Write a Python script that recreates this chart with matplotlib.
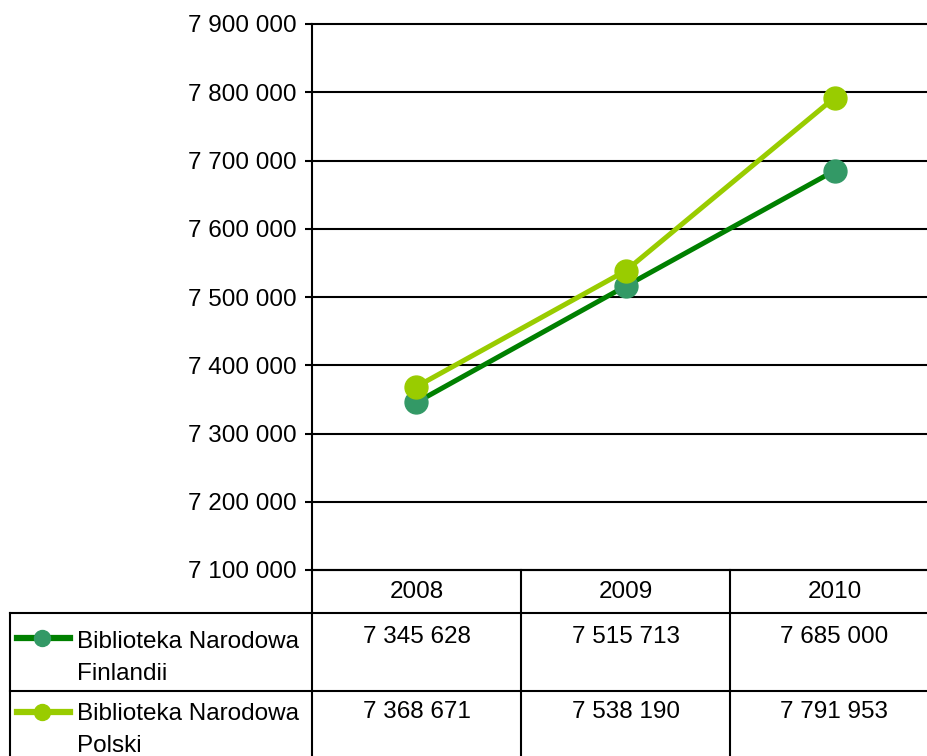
import matplotlib
matplotlib.use("Agg")
import matplotlib.pyplot as plt
from matplotlib.lines import Line2D
import matplotlib.transforms as mtransforms
import numpy as np

plt.rcParams['font.family'] = ['Liberation Sans', 'DejaVu Sans']

years = ["2008", "2009", "2010"]
series_names = [["Biblioteka Narodowa", "Finlandii"], ["Biblioteka Narodowa", "Polski"]]
finland = [7345628, 7515713, 7685000]
poland = [7368671, 7538190, 7791953]
finland_labels = ["7 345 628", "7 515 713", "7 685 000"]
poland_labels = ["7 368 671", "7 538 190", "7 791 953"]
yticks = list(range(7100000, 7900001, 100000))

line_colors = ["#008000", "#99CC00"]
marker_colors = ["#339966", "#99CC00"]

W, H = 928, 756
fig = plt.figure(figsize=(W / 100, H / 100), dpi=100)

def fx(px):
    return px / W

def fy(py):
    return 1 - py / H

ax_left, ax_right, ax_top, ax_bot = 312, 939, 24, 570
ax = fig.add_axes([fx(ax_left), fy(ax_bot), fx(ax_right - ax_left), (ax_bot - ax_top) / H])
ax.set_xlim(-0.5, 2.5)
ax.set_ylim(7100000, 7900000)

FS = 17.5
x = np.arange(len(years))
series = [finland, poland]
for i, s in enumerate(series):
    ax.plot(x, s, color=line_colors[i], lw=3.6, marker='o', markersize=16.5,
            markerfacecolor=marker_colors[i], markeredgecolor=marker_colors[i],
            zorder=3 + i, clip_on=False)

ax.set_yticks(yticks)
ax.set_yticklabels([f"{v:,}".replace(",", " ") for v in yticks], fontsize=FS)
ax.yaxis.grid(True, color='black', lw=1.5)
for gl in ax.get_ygridlines():
    gl.set_clip_on(False)
ax.set_axisbelow(True)
ax.set_xticks([])
ax.tick_params(axis='y', length=5, width=1.5, direction='out', pad=6)
for sp in ['top', 'right']:
    ax.spines[sp].set_visible(False)
ax.spines['left'].set_linewidth(1.5)
ax.spines['bottom'].set_linewidth(1.5)

# table drawn with blended transform: x in data, y in figure
blend = mtransforms.blended_transform_factory(ax.transData, fig.transFigure)
lw_t = 1.5
row_hdr_top, row1_top, row2_top, bottom = 570, 613, 691, 760
for b in [-0.5, 0.5, 1.5, 2.5]:
    fig.add_artist(Line2D([b, b], [fy(row_hdr_top), fy(bottom)], transform=blend,
                          color='black', lw=lw_t, clip_on=False))
fig.add_artist(Line2D([fx(10), fx(10)], [fy(row1_top), fy(bottom)], color='black', lw=lw_t))
for yy in [row1_top, row2_top]:
    fig.add_artist(Line2D([fx(10), fx(W + 20)], [fy(yy), fy(yy)], color='black', lw=lw_t))

for i, yr in enumerate(years):
    t = fig.text(i, fy(592), yr, fontsize=FS, ha='center', va='center')
    t.set_transform(blend)

row_labels = [finland_labels, poland_labels]
row_text_y = [637, 712]
label_baselines = [(648, 680), (720, 752)]
legend_y = [638, 712]
for r in range(2):
    for i, lab in enumerate(row_labels[r]):
        t = fig.text(i, fy(row_text_y[r]), lab, fontsize=FS, ha='center', va='center')
        t.set_transform(blend)
    for line, by in zip(series_names[r], label_baselines[r]):
        fig.text(fx(77), fy(by), line, fontsize=FS, ha='left', va='baseline')
    ly = fy(legend_y[r])
    fig.add_artist(Line2D([fx(17), fx(70)], [ly, ly], color=line_colors[r], lw=4.5))
    fig.add_artist(Line2D([fx(42)], [ly], marker='o', markersize=11.5,
                          markerfacecolor=marker_colors[r], markeredgecolor=marker_colors[r],
                          lw=0))

fig.savefig("out.png", dpi=100)
